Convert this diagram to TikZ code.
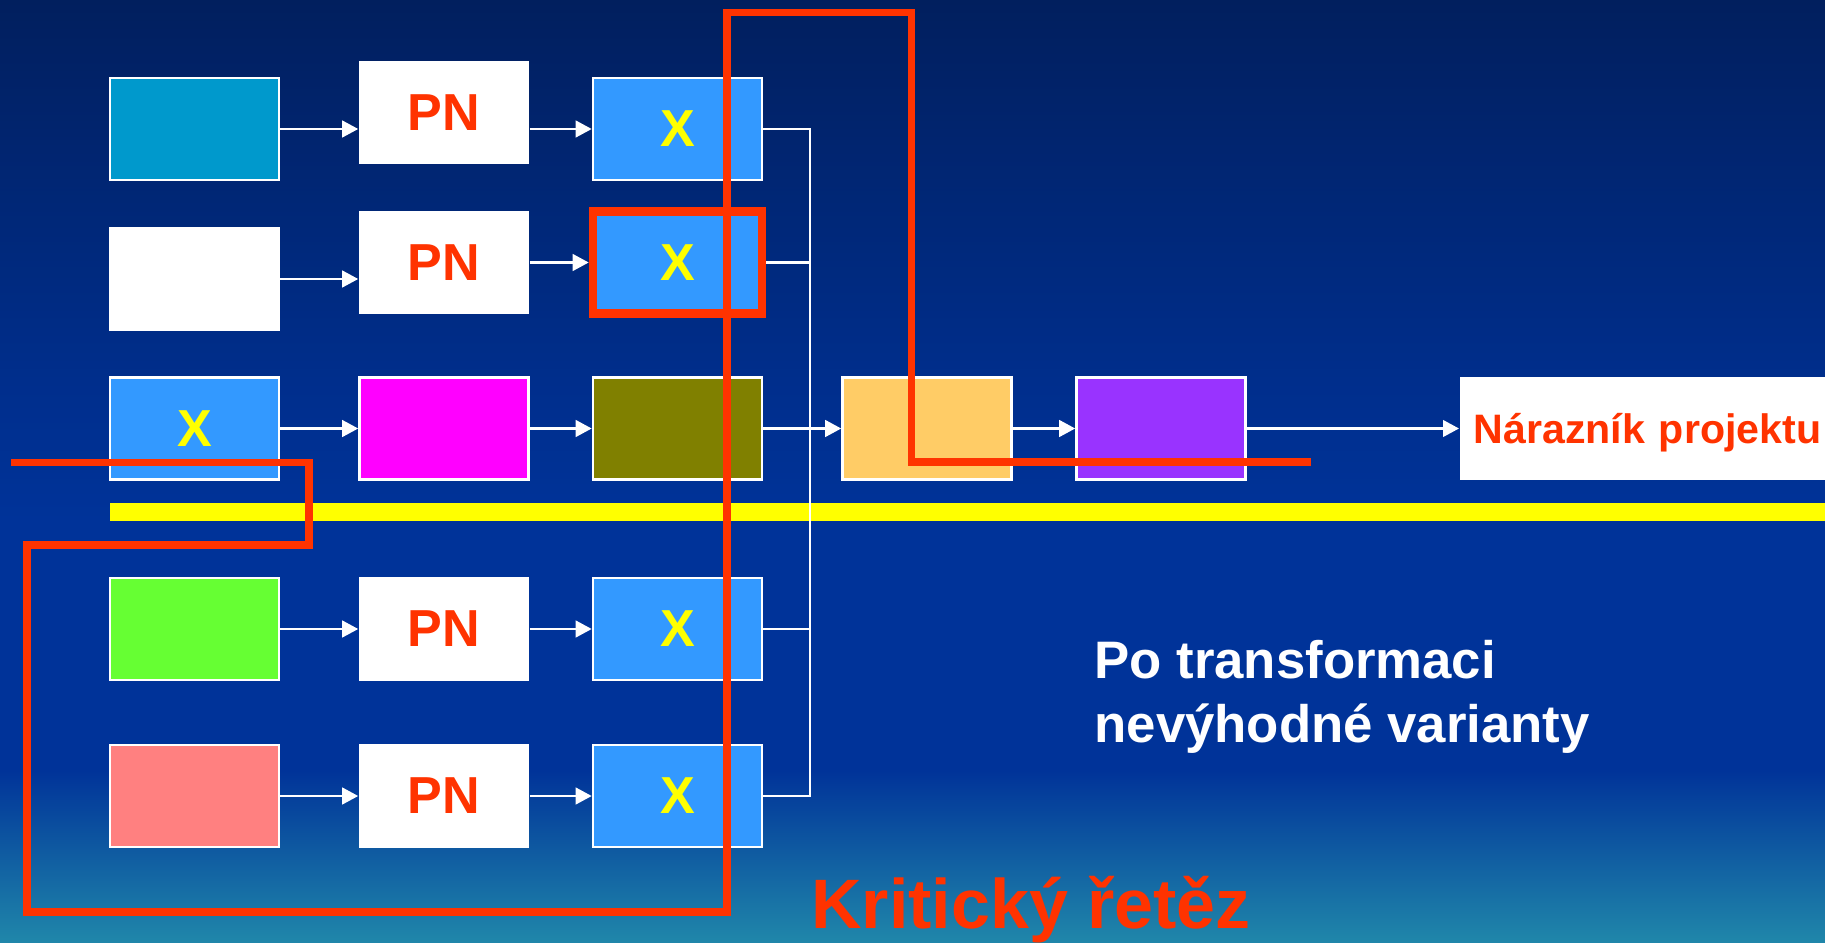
\documentclass[tikz,border=0pt]{standalone}
\usepackage{fontspec}
\setmainfont{Liberation Sans}
\usetikzlibrary{arrows.meta}
\definecolor{navytop}{RGB}{1,31,94}
\definecolor{navyup}{RGB}{0,46,140}
\definecolor{navy}{RGB}{0,51,153}
\definecolor{seabot}{RGB}{32,135,170}
\definecolor{crit}{RGB}{255,51,0}
\definecolor{marker}{RGB}{255,255,0}
\definecolor{skyfill}{RGB}{0,153,204}
\definecolor{xblue}{RGB}{51,153,255}
\definecolor{magfill}{RGB}{255,0,255}
\definecolor{olivefill}{RGB}{128,128,0}
\definecolor{beigefill}{RGB}{255,204,102}
\definecolor{violetfill}{RGB}{153,51,255}
\definecolor{greenfill}{RGB}{102,255,51}
\definecolor{pinkfill}{RGB}{255,128,128}
\newcommand\bigbold{\bfseries\fontsize{14.8}{17}\selectfont}
\tikzset{
  >={Triangle[length=1.6mm,width=1.65mm]},
  task/.style={draw=white,line width=0.7pt,fill=#1,minimum width=1.69cm,
    minimum height=1.02cm,inner sep=0pt},
  task/.default=white,
  pn/.style={fill=white,minimum width=1.70cm,minimum height=1.03cm,inner sep=0pt,
    text=crit,font=\bigbold},
  xbox/.style={task=xblue,text=marker,font=\bigbold},
  hot/.style={draw=crit,line width=2.4pt},
  flow/.style={->,draw=white,line width=0.75pt},
  feed/.style={draw=white,line width=0.75pt},
  chain/.style={draw=crit,line width=2pt},
}
\begin{document}
\begin{tikzpicture}[x=0.01cm,y=-0.01cm]
  \useasboundingbox (0,0) rectangle (1825,943);
  % background
  \shade[top color=navytop,bottom color=navyup] (0,0) rectangle (1825,381);
  \shade[top color=navyup,bottom color=navy] (0,380) rectangle (1825,521);
  \fill[navy] (0,520) rectangle (1825,771);
  \shade[top color=navy,bottom color=seabot] (0,770) rectangle (1825,943);
  \fill[marker] (110,503) rectangle (1825,521);

  \node[task=skyfill] (a1) at (194.5,129) {};
  \node[pn] (p1) at (444,112.5) {PN};
  \node[xbox] (x1) at (677.5,129) {X};

  \node[task] (a2) at (194.5,279) {};
  \node[pn] (p2) at (444,262.5) {PN};
  \node[xbox,hot] (x2) at (677.5,262.5) {X};

  \node[xbox] (a3) at (194.5,428.5) {X};
  \node[task=magfill] (b3) at (444,428.5) {};
  \node[task=olivefill] (c3) at (677.5,428.5) {};
  \node[task=beigefill] (m) at (927,428.5) {};
  \node[task=violetfill] (n) at (1161,428.5) {};
  \node[fill=white,anchor=west,minimum height=1.025cm,inner xsep=0.14cm,
    text width=3.72cm,align=left,text=crit,text height=8.4pt,text depth=0pt,
    font=\bfseries\fontsize{11.7}{14}\selectfont] (buf) at (1459,428.5) {Nárazník projektu};

  \node[task=greenfill] (a4) at (194.5,629) {};
  \node[pn] (p4) at (444,629) {PN};
  \node[xbox] (x4) at (677.5,629) {X};

  \node[task=pinkfill] (a5) at (194.5,796) {};
  \node[pn] (p5) at (444,796) {PN};
  \node[xbox] (x5) at (677.5,796) {X};

  \draw[flow] (a1.east) -- (a1.east -| p1.west);
  \draw[flow] (x1.west -| p1.east) -- (x1.west);
  \draw[flow] (a2.east) -- (a2.east -| p2.west);
  \draw[flow] (p2) -- (x2);
  \draw[flow] (a3) -- (b3);
  \draw[flow] (b3) -- (c3);
  \draw[flow] (c3) -- (m);
  \draw[flow] (m) -- (n);
  \draw[flow] (n) -- (buf);
  \draw[flow] (a4) -- (p4);
  \draw[flow] (p4) -- (x4);
  \draw[flow] (a5) -- (p5);
  \draw[flow] (p5) -- (x5);

  \coordinate (bus) at (810,0);
  \draw[feed] (x1.east) -- (x1.east -| bus) -- (x5.east -| bus) -- (x5.east);
  \draw[feed] (x2.east) -- (x2.east -| bus);
  \draw[feed] (x4.east) -- (x4.east -| bus);

  \draw[chain] (11,462.5) -- (309,462.5) -- (309,545) -- (27,545) -- (27,912)
    -- (727,912) -- (727,12.5) -- (911,12.5) -- (911,462) -- (1311,462);

  \node[anchor=base west,align=left,text=white,
    font=\bfseries\fontsize{15}{18.2}\selectfont] (note) at (1082,742)
    {Po transformaci\\nevýhodné varianty};
  \node[anchor=base west,text=crit,font=\bfseries\fontsize{19.9}{24}\selectfont]
    (title) at (799,928) {Kritický řetěz};
\end{tikzpicture}
\end{document}
